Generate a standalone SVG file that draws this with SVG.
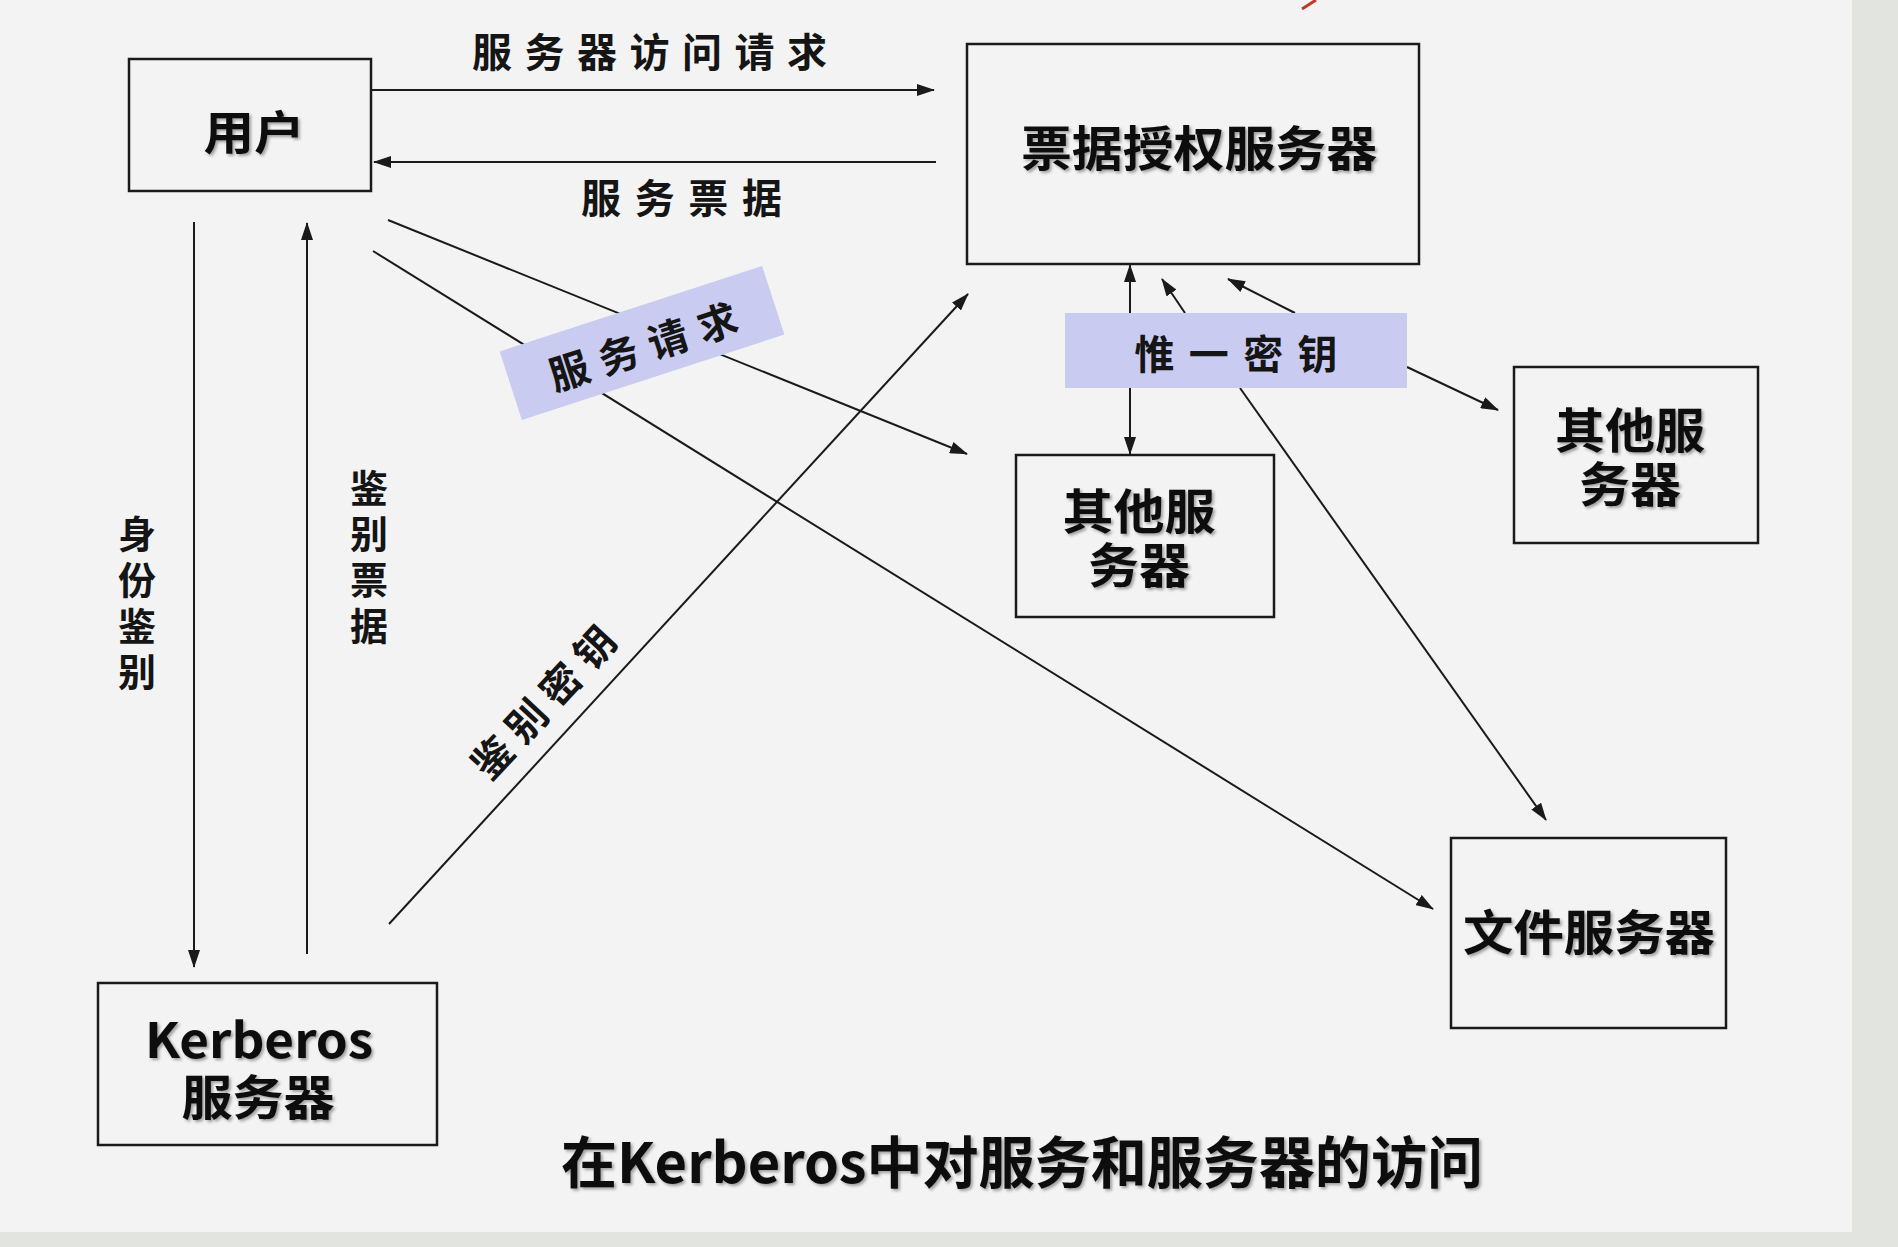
<svg xmlns="http://www.w3.org/2000/svg" width="1898" height="1247" viewBox="0 0 1898 1247">
  <style>
    .box { fill: none; stroke: #1a1a1a; stroke-width: 2.5; }
    .node-text { font-family: "Noto Sans CJK SC", "Microsoft YaHei", sans-serif; font-weight: 700; fill: #111; dominant-baseline: central; text-anchor: middle; }
    .label { font-family: "Noto Sans CJK SC", sans-serif; font-weight: 600; fill: #151515; font-size: 40px; dominant-baseline: central; }
    .vlabel { font-family: "Noto Sans CJK SC", sans-serif; font-weight: 600; fill: #151515; font-size: 38px; writing-mode: vertical-rl; letter-spacing: 8px; }
    .conn { stroke: #1a1a1a; stroke-width: 2; fill: none; marker-end: url(#ah); }
    .tag { fill: #c9cbf1; }
  </style>
  <defs>
    <marker id="ah" markerUnits="userSpaceOnUse" markerWidth="18" markerHeight="12" refX="17" refY="6" orient="auto-start-reverse">
      <path d="M0,0 L18,6 L0,12 z" fill="#1a1a1a"/>
    </marker>
    <filter id="sh" x="-10%" y="-20%" width="130%" height="150%">
      <feDropShadow dx="2" dy="2" stdDeviation="1.5" flood-color="#000" flood-opacity="0.35"/>
    </filter>
  </defs>

  <!-- background -->
  <rect x="0" y="0" width="1898" height="1247" fill="#f3f3f3"/>
  <rect x="1852" y="0" width="46" height="1247" fill="#e2e4e0"/>
  <rect x="0" y="1232" width="1898" height="15" fill="#e2e4e0"/>
  <path d="M1302,9 L1316,0" stroke="#c0392b" stroke-width="3" fill="none"/>

  <!-- connectors -->
  <g id="connectors">
    <line class="conn" x1="371" y1="90" x2="934" y2="90"/>
    <line class="conn" x1="936" y1="162" x2="374" y2="162"/>
    <line class="conn" x1="194" y1="222" x2="194" y2="967"/>
    <line class="conn" x1="307" y1="954" x2="307" y2="223"/>
    <line class="conn" x1="389" y1="924" x2="968" y2="294"/>
    <line class="conn" x1="388" y1="220" x2="967" y2="454"/>
    <line class="conn" x1="373" y1="251" x2="1433" y2="909"/>
    <line class="conn" x1="1130" y1="265" x2="1130" y2="454" marker-start="url(#ah)"/>
    <line class="conn" x1="1185" y1="313" x2="1162" y2="279"/>
    <line class="conn" x1="1295" y1="313" x2="1228" y2="279"/>
    <line class="conn" x1="1407" y1="367" x2="1498" y2="410"/>
    <line class="conn" x1="1240" y1="388" x2="1546" y2="820"/>

    <text class="label" x="472" y="50" textLength="355" lengthAdjust="spacing">服务器访问请求</text>
    <text class="label" x="581" y="196" textLength="201" lengthAdjust="spacing">服务票据</text>
    <text class="vlabel" x="137" y="515">身份鉴别</text>
    <text class="vlabel" x="369" y="469">鉴别票据</text>
    <text class="label" text-anchor="middle" transform="translate(542,701) rotate(-47)" x="0" y="0" textLength="190" lengthAdjust="spacing">鉴别密钥</text>
  </g>

  <!-- label tags -->
  <g id="tag-service-request" transform="translate(642,343) rotate(-18)">
    <rect class="tag" x="-138" y="-36" width="276" height="72"/>
    <text class="label" x="0" y="2" text-anchor="middle" font-size="42" textLength="196" lengthAdjust="spacing">服务请求</text>
  </g>
  <g id="tag-unique-key">
    <rect class="tag" x="1065" y="313" width="342" height="75"/>
    <text class="label" x="1236" y="352" text-anchor="middle" textLength="203" lengthAdjust="spacing">惟一密钥</text>
  </g>

  <!-- nodes -->
  <g id="user">
    <rect class="box" x="129" y="59" width="242" height="132"/>
    <text class="node-text" filter="url(#sh)" x="254" y="129" font-size="46" textLength="101" lengthAdjust="spacingAndGlyphs">用户</text>
  </g>
  <g id="tgs">
    <rect class="box" x="967" y="44" width="452" height="220"/>
    <text class="node-text" filter="url(#sh)" x="1199" y="145" font-size="48" textLength="356" lengthAdjust="spacingAndGlyphs">票据授权服务器</text>
  </g>
  <g id="other-server-1">
    <rect class="box" x="1016" y="455" width="258" height="162"/>
    <text class="node-text" filter="url(#sh)" font-size="48"><tspan x="1139" y="508" textLength="153" lengthAdjust="spacingAndGlyphs">其他服</tspan><tspan x="1139" y="562" textLength="102" lengthAdjust="spacingAndGlyphs">务器</tspan></text>
  </g>
  <g id="other-server-2">
    <rect class="box" x="1514" y="367" width="244" height="176"/>
    <text class="node-text" filter="url(#sh)" font-size="48"><tspan x="1630" y="427" textLength="150" lengthAdjust="spacingAndGlyphs">其他服</tspan><tspan x="1630" y="481" textLength="102" lengthAdjust="spacingAndGlyphs">务器</tspan></text>
  </g>
  <g id="file-server">
    <rect class="box" x="1451" y="838" width="275" height="190"/>
    <text class="node-text" filter="url(#sh)" x="1589" y="929" font-size="48" textLength="252" lengthAdjust="spacingAndGlyphs">文件服务器</text>
  </g>
  <g id="kerberos">
    <rect class="box" x="98" y="983" width="339" height="162"/>
    <text class="node-text" filter="url(#sh)" font-size="48"><tspan x="259" y="1037" textLength="228" lengthAdjust="spacingAndGlyphs">Kerberos</tspan><tspan x="258" y="1094" textLength="153" lengthAdjust="spacingAndGlyphs">服务器</tspan></text>
  </g>

  <g id="title">
    <text class="node-text" filter="url(#sh)" x="1022" y="1158" font-size="56" textLength="922" lengthAdjust="spacingAndGlyphs">在Kerberos中对服务和服务器的访问</text>
  </g>
</svg>
